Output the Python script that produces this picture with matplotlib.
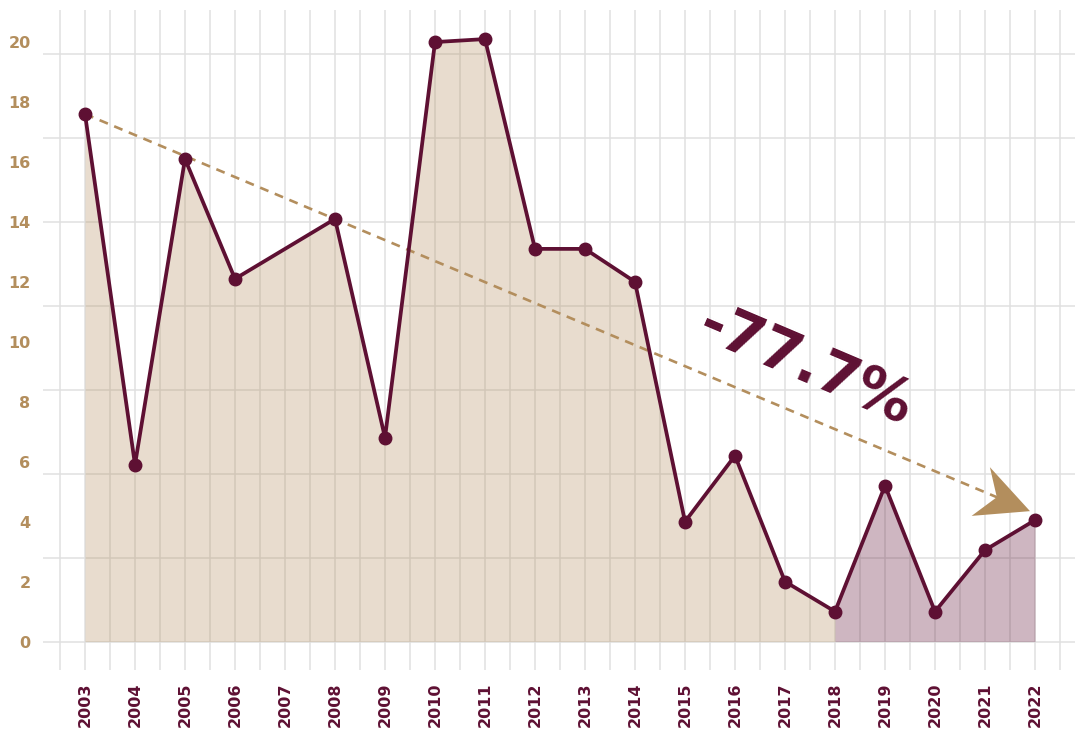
import numpy as np
import matplotlib.pyplot as plt
from matplotlib.patches import Polygon
from matplotlib.transforms import IdentityTransform

# data (2007 has no point, line runs straight 2006 -> 2008)
years = list(range(2003, 2023))
values = [17.6, 5.9, 16.1, 12.1, np.nan, 14.1, 6.8, 20.0, 20.1, 13.1,
          13.1, 12.0, 4.0, 6.2, 2.0, 1.0, 5.2, 1.0, 3.05, 4.05]
split_year = 2018
trend_start = (2003, 17.6)
trend_tip = (2021.9, 4.35)
trend_label = "-77.7%"

LINE = "#5e1033"
GOLD = "#b38e5d"
GRID = "#e0e0e0"
FONT = "DejaVu Sans"

x = np.array(years, dtype=float)
y = np.array(values, dtype=float)
ok = ~np.isnan(y)
x, y = x[ok], y[ok]

fig = plt.figure(figsize=(10.75, 7.3), dpi=100)
ax = fig.add_axes([43 / 1075, 1 - 670 / 730, 1 - 43 / 1075, 660 / 730])
ax.set_xlim(2002.16, 2022.8)
ax.set_ylim(-0.95, 21.07)

# grid (not aligned with the labels, as in the original)
ax.xaxis.remove_overlapping_locs = False
ax.yaxis.remove_overlapping_locs = False
ax.set_xticks(np.arange(2002.5, 2023.0, 0.5), minor=True)
ax.set_yticks(np.arange(0, 20.0, 2.8), minor=True)
ax.grid(which="minor", color=GRID, lw=1.1, zorder=0)
ax.grid(which="major", visible=False)
ax.set_axisbelow(True)

# area fills
m1 = x <= split_year
m2 = x >= split_year
ax.fill_between(x[m1], 0, y[m1], color=GOLD, alpha=0.3, lw=0, zorder=1)
ax.fill_between(x[m2], 0, y[m2], color=LINE, alpha=0.3, lw=0, zorder=1)

ax.plot(x, y, color=LINE, lw=2.7, marker="o", ms=9, zorder=4)

# trend arrow: dashed line + notched head, built in pixel space
fig.canvas.draw()
p0 = ax.transData.transform(trend_start)
p1 = ax.transData.transform(trend_tip)
u = (p1 - p0) / np.hypot(*(p1 - p0))
n = np.array([-u[1], u[0]])
notch = p1 - 36 * u
head = [p1, p1 - 54 * u + 25 * n, notch, p1 - 52 * u - 27 * n]
ax.add_patch(Polygon(head, closed=True, transform=IdentityTransform(),
                     color=GOLD, lw=0, zorder=5))
end = ax.transData.inverted().transform(notch + 3 * u)
ax.plot([trend_start[0], end[0]], [trend_start[1], end[1]], color=GOLD,
        lw=1.9, ls=(0, (3.4, 2.6)), zorder=3)

ax.text(2017.42, 9.2, trend_label, color=LINE, fontsize=42,
        family=FONT, weight="bold", rotation=-23, rotation_mode="anchor",
        ha="center", va="center", zorder=6)

# ticks
ax.set_xticks(years)
ax.set_xticklabels([str(v) for v in years], rotation=90, color=LINE,
                   fontsize=11.5, fontweight="bold", family=FONT)
ax.set_yticks(range(0, 21, 2))
ax.set_yticklabels([str(v) for v in range(0, 21, 2)], color=GOLD,
                   fontsize=11.5, fontweight="bold", family=FONT)
ax.tick_params(which="both", length=0)
ax.tick_params(axis="x", pad=9)
ax.tick_params(axis="y", pad=9)
for s in ax.spines.values():
    s.set_visible(False)

fig.savefig("out.png", dpi=100)
